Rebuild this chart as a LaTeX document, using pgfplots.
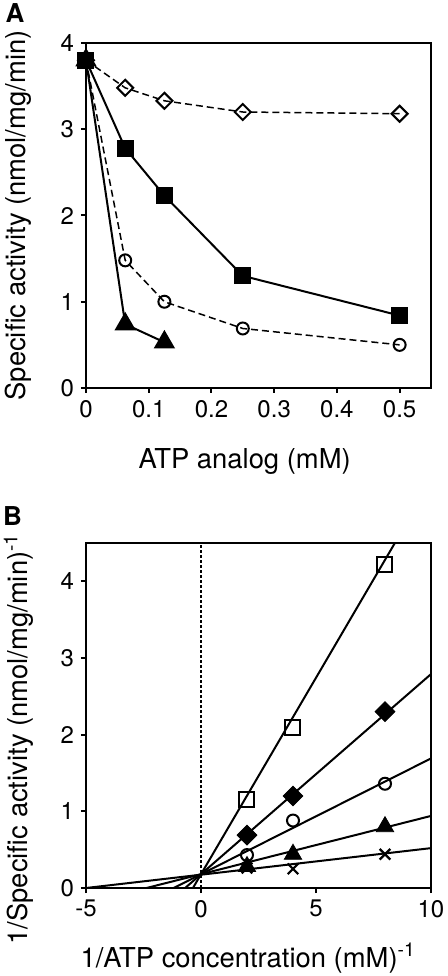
\documentclass[border=0pt]{standalone}
\usepackage{fontspec}
\setmainfont{TeX Gyre Heros}
\usepackage{pgfplots}
\pgfplotsset{compat=1.18}
\begin{document}
\begin{tikzpicture}
\path[use as bounding box] (0pt,0pt) rectangle (224pt,488pt);
\pgfplotsset{
 myaxis/.style={
  scale only axis, width=172.5pt, height=172.5pt, anchor=south west,
  axis line style={line width=1pt},
  every tick/.style={line width=1pt, black},
  major tick length=2.5pt,
  tick align=outside, xtick pos=bottom, ytick pos=left,
  /pgf/number format/assume math mode=true,
  tick label style={font=\fontsize{12}{14}\selectfont},
  label style={font=\fontsize{13.7}{16}\selectfont},
  clip=false,
 },
 dsh/.style={black, line width=0.75pt, dash pattern=on 3.5pt off 2pt},
 sld/.style={black, line width=1pt, mark options={solid, fill=black}},
}
\begin{axis}[myaxis, at={(43pt,294pt)}, xmin=0, xmax=0.55, ymin=0, ymax=4,
  xtick={0,0.1,0.2,0.3,0.4,0.5}, xticklabels={0,0.1,0.2,0.3,0.4,0.5},
  ytick={0,1,2,3,4},
  xlabel={ATP analog (mM)}, ylabel={Specific activity (nmol/mg/min)},
  xlabel style={at={(axis description cs:0.46,-0.214)}, anchor=center},
  ylabel style={at={(axis description cs:-0.195,0.5)}, anchor=center}]
\addplot[dsh, mark=square, mark size=2.83pt, mark options={solid, fill=white, line width=1pt, rotate=45}] coordinates {(0,3.80) (0.0625,3.48) (0.125,3.33) (0.25,3.20) (0.5,3.18)};
\addplot[dsh, mark=o, mark size=3pt, mark options={solid, fill=white, line width=1pt}] coordinates {(0,3.80) (0.0625,1.48) (0.125,1.00) (0.25,0.69) (0.5,0.50)};
\addplot[sld, mark=square*, mark size=3.75pt] coordinates {(0,3.80) (0.0625,2.78) (0.125,2.23) (0.25,1.30) (0.5,0.84)};
\addplot[sld, mark=triangle*, mark size=5.2pt] coordinates {(0,3.80) (0.0625,0.74) (0.125,0.53)};
\end{axis}
\node[font=\bfseries\fontsize{13}{13}\selectfont] at (7.5pt,481.5pt) {A};

\begin{axis}[myaxis, at={(43pt,44pt)}, xmin=-5, xmax=10, ymin=0, ymax=4.5,
  xtick={-5,0,5,10}, ytick={0,1,2,3,4},
  xlabel={1/ATP concentration (mM)\textsuperscript{-1}},
  ylabel={1/Specific activity (nmol/mg/min)\textsuperscript{-1}},
  xlabel style={at={(axis description cs:0.47,-0.203)}, anchor=center},
  ylabel style={at={(axis description cs:-0.195,0.432)}, anchor=center}]
\addplot[black, line width=0.7pt, dash pattern=on 1.5pt off 1pt] coordinates {(0,0) (0,4.5)};
% fitted lines
\addplot[black, line width=1pt] coordinates {(-0.35,0) (8.43,4.5)};
\addplot[black, line width=1pt] coordinates {(-0.69,0) (10,2.79)};
\addplot[black, line width=1pt] coordinates {(-1.19,0) (10,1.69)};
\addplot[black, line width=1pt] coordinates {(-2.37,0) (10,0.94)};
\addplot[black, line width=1pt] coordinates {(-5,0) (10,0.52)};
% data
\addplot[only marks, mark=square, mark size=3.75pt, mark options={black, fill=white, line width=1pt}] coordinates {(2,1.16) (4,2.10) (8,4.22)};
\addplot[only marks, mark=square*, mark size=3.5pt, mark options={black, fill=black, rotate=45}] coordinates {(2,0.69) (4,1.20) (8,2.30)};
\addplot[only marks, mark=o, mark size=3pt, mark options={black, fill=white, line width=1pt}] coordinates {(2,0.43) (4,0.88) (8,1.36)};
\addplot[only marks, mark=triangle*, mark size=5pt, mark options={black, fill=black}] coordinates {(2,0.28) (4,0.44) (8,0.80)};
\addplot[only marks, mark=x, mark size=3.75pt, mark options={black, line width=1.1pt}] coordinates {(2,0.26) (4,0.25) (8,0.44)};
\end{axis}
\node[font=\bfseries\fontsize{13}{13}\selectfont] at (6.25pt,230pt) {B};
\end{tikzpicture}
\end{document}
